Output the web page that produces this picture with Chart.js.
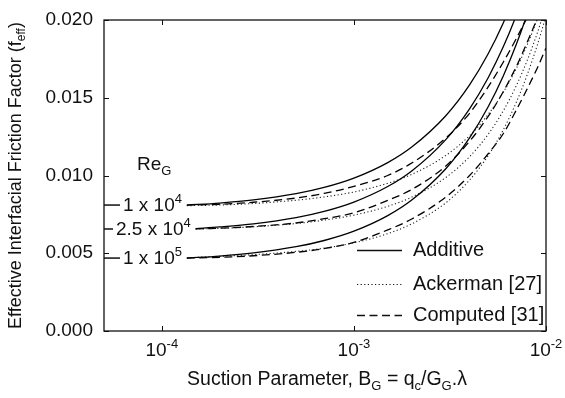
<!doctype html>
<html lang="en">
    <head>
        <meta charset="UTF-8" />
        <title>Effective Interfacial Friction Factor vs Suction Parameter</title>
        <script src="https://cdn.jsdelivr.net/npm/chart.js"></script>
        <style>
            html, body { margin: 0; padding: 0; background: #fff; }
            #wrap { width: 565px; height: 398px; }
        </style>
    </head>
    <body>
        <div id="wrap"><canvas id="frictionChart"></canvas></div>
        <script>
            // suction parameter B_G (x values); the 2.5e4 curves start a bit further right
            var suction = [1.35e-4, 2e-4, 3e-4, 5e-4, 7e-4, 1e-3, 1.5e-3, 2e-3, 3e-3, 4e-3, 5e-3, 6e-3, 7e-3, 8e-3, 9e-3, 1e-2];
            var suctionMid = [1.5e-4, 2e-4, 3e-4, 5e-4, 7e-4, 1e-3, 1.5e-3, 2e-3, 3e-3, 4e-3, 5e-3, 6e-3, 7e-3, 8e-3, 9e-3, 1e-2];

            // Additive (solid)
            var additive1e4 = [0.0081, 0.00823, 0.00843, 0.00883, 0.00923, 0.00983, 0.01083, 0.01183, 0.01383, 0.01583, 0.01783, 0.01983, 0.02183, 0.02383, 0.02583, 0.02783];
            var additive25e4 = [0.00658, 0.00669, 0.00689, 0.00729, 0.00769, 0.00829, 0.00929, 0.01029, 0.01229, 0.01429, 0.01629, 0.01829, 0.02029, 0.02229, 0.02429, 0.02629];
            var additive1e5 = [0.00469, 0.00482, 0.00502, 0.00542, 0.00582, 0.00642, 0.00742, 0.00842, 0.01042, 0.01242, 0.01442, 0.01642, 0.01842, 0.02042, 0.02242, 0.02442];

            // Ackerman [27] (dotted)
            var ackerman1e4 = [0.00806, 0.0081, 0.0082, 0.00841, 0.00862, 0.00894, 0.0095, 0.01007, 0.01128, 0.01256, 0.01393, 0.01536, 0.01687, 0.01843, 0.02005, 0.02173];
            var ackerman25e4 = [0.00655, 0.0066, 0.0067, 0.00691, 0.00713, 0.00745, 0.00802, 0.00861, 0.00986, 0.01121, 0.01265, 0.01417, 0.01577, 0.01743, 0.01915, 0.02092];
            var ackerman1e5 = [0.00471, 0.0048, 0.00491, 0.00512, 0.00533, 0.00567, 0.00626, 0.00689, 0.00823, 0.00971, 0.01128, 0.01295, 0.0147, 0.01651, 0.01837, 0.02026];

            // Computed [31] (dashed)
            var computed1e4 = [0.0081, 0.00815, 0.00828, 0.00855, 0.00885, 0.0093, 0.01, 0.0108, 0.0124, 0.014, 0.0157, 0.0173, 0.0188, 0.0202, 0.0216, 0.023];
            var computed25e4 = [0.00657, 0.00661, 0.00672, 0.00695, 0.00722, 0.0076, 0.0084, 0.0091, 0.0106, 0.0122, 0.0138, 0.0154, 0.017, 0.0186, 0.0201, 0.0216];
            var computed1e5 = [0.00469, 0.00474, 0.00484, 0.00506, 0.0053, 0.0057, 0.0065, 0.0072, 0.0086, 0.01, 0.0114, 0.0127, 0.0142, 0.0156, 0.0169, 0.0182];

            var xTicks = [1e-4, 1e-3, 1e-2];
            var xTickExp = ["-4", "-3", "-2"];
            var yTicks = [0, 0.005, 0.01, 0.015, 0.02];
            var reLabels = [
                { y: 0.0081, base: "1 x 10", exp: "4" },
                { y: 0.00656, base: "2.5 x 10", exp: "4" },
                { y: 0.00469, base: "1 x 10", exp: "5" }
            ];

            var FONT = '"Liberation Sans", Arial, Helvetica, sans-serif';

            function pts(xs, ys) {
                return xs.map(function (x, i) {
                    return { x: x, y: ys[i] };
                });
            }

            function series(xs, ys, style) {
                var ds = {
                    data: pts(xs, ys),
                    borderColor: "#000",
                    borderWidth: 1.3,
                    pointRadius: 0,
                    fill: false,
                    cubicInterpolationMode: "monotone"
                };
                if (style === "dot") {
                    ds.borderDash = [1.2, 2.4];
                    ds.borderWidth = 1.1;
                    ds.borderColor = "#222";
                } else if (style === "dash") {
                    ds.borderDash = [8, 4.5];
                }
                return ds;
            }

            // text with sub/superscripts
            function richWidth(ctx, parts, size) {
                var w = 0;
                parts.forEach(function (p) {
                    ctx.font = (p.s ? Math.round(size * 0.68) : size) + "px " + FONT;
                    w += ctx.measureText(p.t).width;
                });
                return w;
            }

            function drawRich(ctx, parts, x, y, size, align) {
                var w = richWidth(ctx, parts, size);
                var cx = x;
                if (align === "center") cx = x - w / 2;
                if (align === "right") cx = x - w;
                ctx.textBaseline = "middle";
                ctx.textAlign = "left";
                parts.forEach(function (p) {
                    var dy = 0;
                    if (p.s === "sub") dy = size * 0.32;
                    if (p.s === "sup") dy = -size * 0.36;
                    ctx.font = (p.s ? Math.round(size * 0.68) : size) + "px " + FONT;
                    ctx.fillText(p.t, cx, y + dy);
                    cx += ctx.measureText(p.t).width;
                });
            }

            var decorPlugin = {
                id: "decor",
                afterDraw: function (chart) {
                    var ctx = chart.ctx;
                    var a = chart.chartArea;
                    var xs = chart.scales.x;
                    var ys = chart.scales.y;
                    ctx.save();
                    ctx.fillStyle = "#111";
                    ctx.strokeStyle = "#111";

                    // frame
                    ctx.lineWidth = 1.3;
                    ctx.strokeRect(a.left, a.top, a.right - a.left, a.bottom - a.top);

                    // inward ticks
                    ctx.lineWidth = 1;
                    ctx.beginPath();
                    xTicks.forEach(function (v) {
                        var px = Math.round(xs.getPixelForValue(v)) + 0.5;
                        ctx.moveTo(px, a.bottom);
                        ctx.lineTo(px, a.bottom - 5);
                        ctx.moveTo(px, a.top);
                        ctx.lineTo(px, a.top + 5);
                    });
                    yTicks.forEach(function (v) {
                        var py = Math.round(ys.getPixelForValue(v)) + 0.5;
                        ctx.moveTo(a.left, py);
                        ctx.lineTo(a.left + 5, py);
                        ctx.moveTo(a.right, py);
                        ctx.lineTo(a.right - 5, py);
                    });
                    ctx.stroke();

                    // y tick labels
                    ctx.font = "19px " + FONT;
                    ctx.textAlign = "right";
                    ctx.textBaseline = "middle";
                    yTicks.forEach(function (v) {
                        ctx.fillText(v.toFixed(3), a.left - 11, ys.getPixelForValue(v));
                    });

                    // x tick labels
                    xTicks.forEach(function (v, i) {
                        drawRich(ctx, [{ t: "10" }, { t: xTickExp[i], s: "sup" }], xs.getPixelForValue(v), a.bottom + 20, 19, "center");
                    });

                    // x title
                    drawRich(
                        ctx,
                        [
                            { t: "Suction Parameter, B" },
                            { t: "G", s: "sub" },
                            { t: " = q" },
                            { t: "c", s: "sub" },
                            { t: "/G" },
                            { t: "G", s: "sub" },
                            { t: ".λ" }
                        ],
                        327,
                        a.bottom + 49,
                        19.5,
                        "center"
                    );

                    // y title
                    ctx.save();
                    ctx.translate(16, (a.top + a.bottom) / 2);
                    ctx.rotate(-Math.PI / 2);
                    drawRich(ctx, [{ t: "Effective Interfacial Friction Factor (f" }, { t: "eff", s: "sub" }, { t: ")" }], 0, 0, 18, "center");
                    ctx.restore();

                    // Re_G labels
                    drawRich(ctx, [{ t: "Re" }, { t: "G", s: "sub" }], 137, 165, 19, "left");
                    ctx.lineWidth = 1.5;
                    reLabels.forEach(function (r, i) {
                        var py = ys.getPixelForValue(r.y);
                        var dashEnd = i === 1 ? 113 : 120;
                        ctx.beginPath();
                        ctx.moveTo(a.left, py);
                        ctx.lineTo(dashEnd, py);
                        ctx.stroke();
                        drawRich(ctx, [{ t: r.base }, { t: r.exp, s: "sup" }], dashEnd + 3, py + 1, 19, "left");
                    });

                    // legend
                    var legend = [
                        { y: 250, text: "Additive", dash: [], w: 1.3 },
                        { y: 284, text: "Ackerman [27]", dash: [1.2, 2.4], w: 1 },
                        { y: 315, text: "Computed [31]", dash: [8, 4.5], w: 1.3 }
                    ];
                    legend.forEach(function (l) {
                        ctx.beginPath();
                        ctx.setLineDash(l.dash);
                        ctx.lineWidth = l.w;
                        ctx.moveTo(357, l.y + 0.5);
                        ctx.lineTo(402, l.y + 0.5);
                        ctx.stroke();
                        ctx.setLineDash([]);
                        ctx.font = "20px " + FONT;
                        ctx.textAlign = "left";
                        ctx.textBaseline = "middle";
                        ctx.fillText(l.text, 413, l.y);
                    });

                    ctx.restore();
                }
            };

            var ctx = document.getElementById("frictionChart").getContext("2d");
            var chart = new Chart(ctx, {
                type: "line",
                data: {
                    datasets: [
                        series(suction, additive1e4, "solid"),
                        series(suctionMid, additive25e4, "solid"),
                        series(suction, additive1e5, "solid"),
                        series(suction, ackerman1e4, "dot"),
                        series(suctionMid, ackerman25e4, "dot"),
                        series(suction, ackerman1e5, "dot"),
                        series(suction, computed1e4, "dash"),
                        series(suctionMid, computed25e4, "dash"),
                        series(suction, computed1e5, "dash")
                    ]
                },
                options: {
                    responsive: true,
                    maintainAspectRatio: false,
                    animation: false,
                    layout: { padding: { left: 104, right: 19, top: 20, bottom: 67 } },
                    plugins: {
                        legend: { display: false },
                        tooltip: { enabled: false }
                    },
                    scales: {
                        x: { type: "logarithmic", min: 5e-5, max: 1e-2, display: false },
                        y: { type: "linear", min: 0, max: 0.02, display: false }
                    }
                },
                plugins: [decorPlugin]
            });
        </script>
    </body>
</html>
